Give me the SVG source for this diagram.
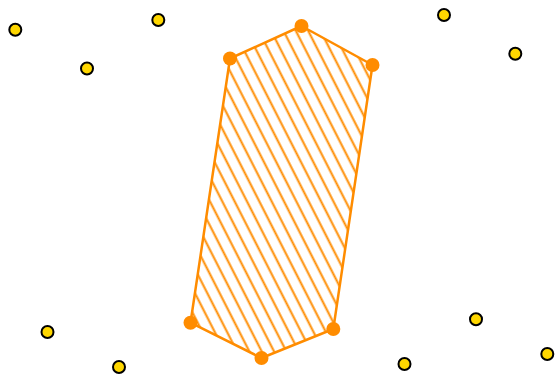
<svg xmlns="http://www.w3.org/2000/svg" width="555" height="377" viewBox="0 0 555 377">
<style>
.pt{fill:#FFD700;stroke:#000;stroke-width:2}
.hull{fill:url(#hatch);stroke:#FF8C00;stroke-width:2.5;stroke-linejoin:round}
.v{fill:#FF8C00}
</style>
<defs>
<pattern id="hatch" patternUnits="userSpaceOnUse" width="11" height="11" patternTransform="rotate(-27)">
<line x1="7.6" y1="-1" x2="7.6" y2="12" stroke="#FF8C00" stroke-width="2"/>
</pattern>
</defs>
<rect width="555" height="377" fill="#fff"/>
<g id="hull">
<polygon class="hull" points="230,58.5 301.5,26 372.5,65 333.3,329 261.5,358 190.5,322.7"/>
<circle class="v" cx="230" cy="58.5" r="7"/>
<circle class="v" cx="301.5" cy="26" r="7"/>
<circle class="v" cx="372.5" cy="65" r="7"/>
<circle class="v" cx="333.3" cy="329" r="7"/>
<circle class="v" cx="261.5" cy="358" r="7"/>
<circle class="v" cx="190.5" cy="322.7" r="7"/>
</g>
<g id="p1"><circle class="pt" cx="15.3" cy="29.8" r="6"/></g>
<g id="p2"><circle class="pt" cx="158.3" cy="20" r="6"/></g>
<g id="p3"><circle class="pt" cx="87" cy="68.5" r="6"/></g>
<g id="p4"><circle class="pt" cx="444" cy="15" r="6"/></g>
<g id="p5"><circle class="pt" cx="515.3" cy="53.8" r="6"/></g>
<g id="p6"><circle class="pt" cx="47.5" cy="332" r="6"/></g>
<g id="p7"><circle class="pt" cx="119" cy="367" r="6"/></g>
<g id="p8"><circle class="pt" cx="476" cy="319.3" r="6"/></g>
<g id="p9"><circle class="pt" cx="404.5" cy="364" r="6"/></g>
<g id="p10"><circle class="pt" cx="547.3" cy="354" r="6"/></g>
</svg>
